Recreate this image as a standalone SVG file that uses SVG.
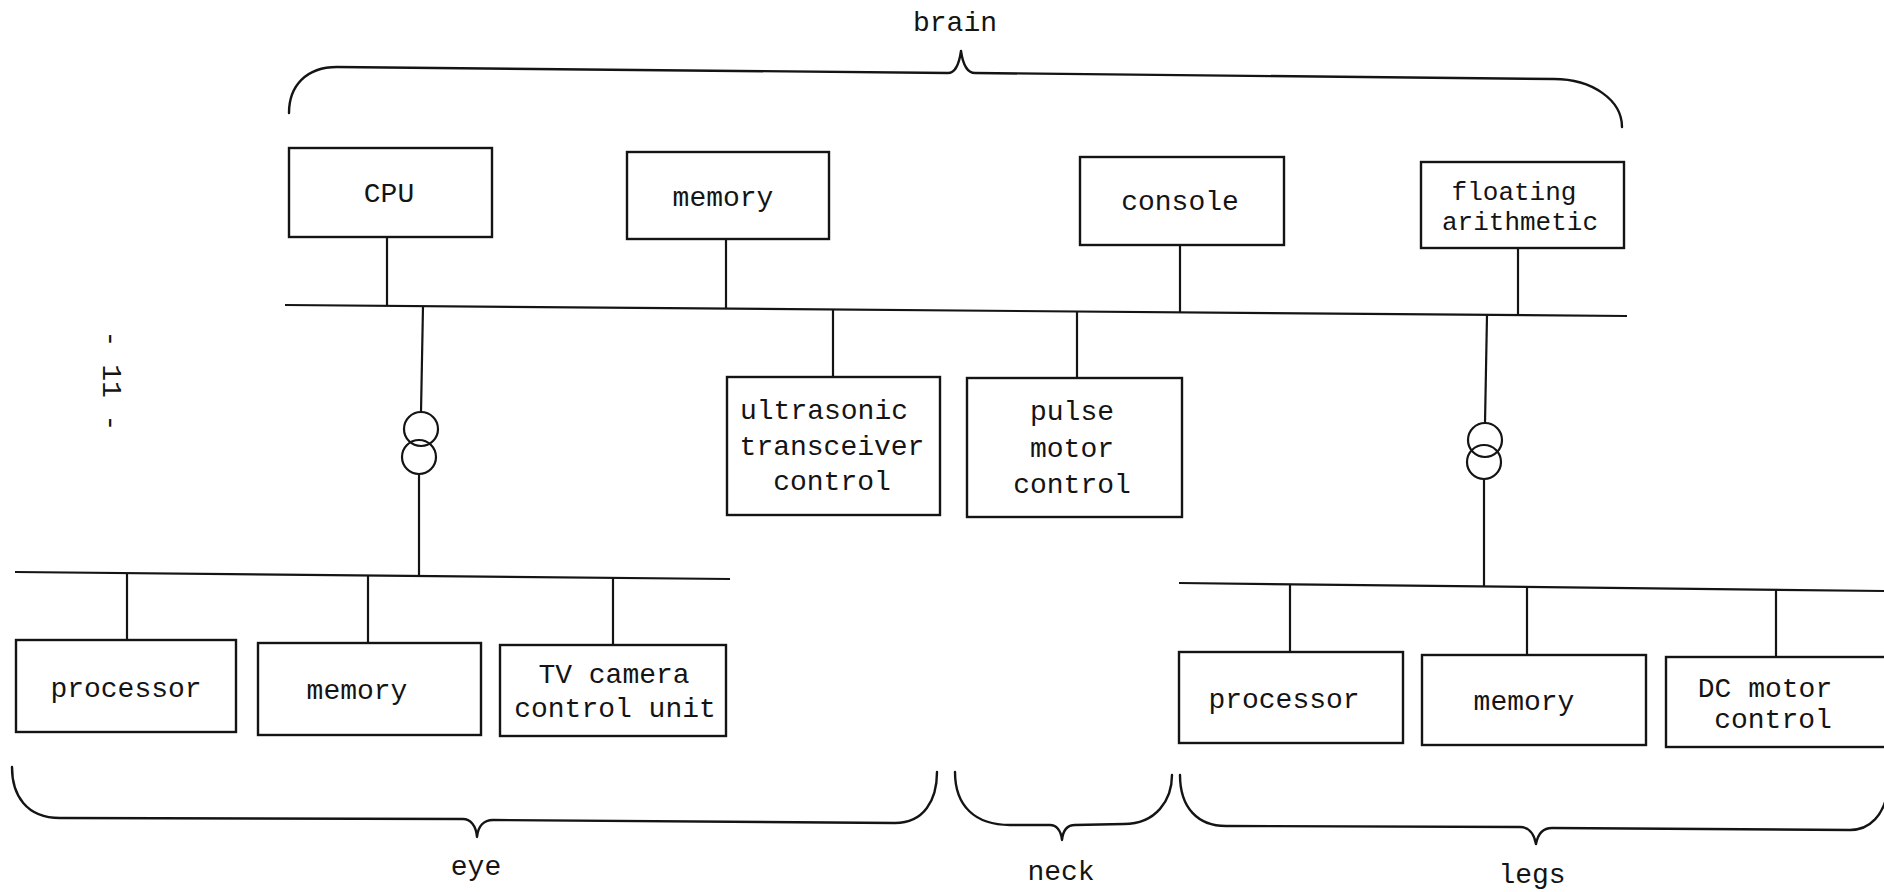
<svg xmlns="http://www.w3.org/2000/svg" width="1884" height="892" viewBox="0 0 1884 892">
<style>
.b{fill:none;stroke:#141414;stroke-width:2.4}
.l{fill:none;stroke:#141414;stroke-width:2.2}
.br{fill:none;stroke:#141414;stroke-width:2.4;stroke-linecap:round;stroke-linejoin:round}
text{font-family:"Liberation Mono","Courier New",monospace;font-size:28px;fill:#141414;text-anchor:middle}
.s{font-size:26px}
</style>
<rect width="1884" height="892" fill="#ffffff"/>
<g id="connectors">
<line class="l" x1="285" y1="305" x2="1627" y2="316"/>
<line class="l" x1="15" y1="572" x2="730" y2="579"/>
<line class="l" x1="1179" y1="583" x2="1884" y2="591"/>
<line class="l" x1="387" y1="237" x2="387" y2="306"/>
<line class="l" x1="726" y1="239" x2="726" y2="309"/>
<line class="l" x1="1180" y1="245" x2="1180" y2="313"/>
<line class="l" x1="1518" y1="248" x2="1518" y2="315"/>
<line class="l" x1="833" y1="310" x2="833" y2="377"/>
<line class="l" x1="1077" y1="312" x2="1077" y2="378"/>
<line class="l" x1="423" y1="306" x2="421" y2="412"/>
<line class="l" x1="419" y1="474" x2="419" y2="576"/>
<line class="l" x1="1487" y1="315" x2="1485" y2="423"/>
<line class="l" x1="1484" y1="479" x2="1484" y2="587"/>
<line class="l" x1="127" y1="573" x2="127" y2="641"/>
<line class="l" x1="368" y1="575" x2="368" y2="644"/>
<line class="l" x1="613" y1="577" x2="613" y2="646"/>
<line class="l" x1="1290" y1="585" x2="1290" y2="653"/>
<line class="l" x1="1527" y1="587" x2="1527" y2="656"/>
<line class="l" x1="1776" y1="589" x2="1776" y2="658"/>
</g>
<g id="eye-coupler">
<circle class="l" cx="421" cy="429" r="17"/>
<circle class="l" cx="419" cy="457" r="17"/>
</g>
<g id="legs-coupler">
<circle class="l" cx="1485" cy="440" r="17"/>
<circle class="l" cx="1484" cy="462" r="17"/>
</g>
<g id="cpu"><rect class="b" x="289" y="148" width="203" height="89"/><text x="389" y="202">CPU</text></g>
<g id="brain-memory"><rect class="b" x="627" y="152" width="202" height="87"/><text x="723" y="206">memory</text></g>
<g id="console"><rect class="b" x="1080" y="157" width="204" height="88"/><text x="1180" y="210">console</text></g>
<g id="floating-arithmetic"><rect class="b" x="1421" y="162" width="203" height="86"/><text class="s" x="1514" y="200">floating</text><text class="s" x="1520" y="230">arithmetic</text></g>
<g id="ultrasonic"><rect class="b" x="727" y="377" width="213" height="138"/><text x="824" y="419">ultrasonic</text><text x="832" y="455">transceiver</text><text x="832" y="490">control</text></g>
<g id="pulse-motor"><rect class="b" x="967" y="378" width="215" height="139"/><text x="1072" y="420">pulse</text><text x="1072" y="457">motor</text><text x="1072" y="493">control</text></g>
<g id="eye-processor"><rect class="b" x="16" y="640" width="220" height="92"/><text x="126" y="697">processor</text></g>
<g id="eye-memory"><rect class="b" x="258" y="643" width="223" height="92"/><text x="357" y="699">memory</text></g>
<g id="tv-camera"><rect class="b" x="500" y="645" width="226" height="91"/><text x="614" y="683">TV camera</text><text x="615" y="717">control unit</text></g>
<g id="legs-processor"><rect class="b" x="1179" y="652" width="224" height="91"/><text x="1284" y="708">processor</text></g>
<g id="legs-memory"><rect class="b" x="1422" y="655" width="224" height="90"/><text x="1524" y="710">memory</text></g>
<g id="dc-motor"><rect class="b" x="1666" y="657" width="240" height="90"/><text x="1765" y="697">DC motor</text><text x="1773" y="728">control</text></g>
<g id="brain-brace">
<path class="br" d="M289,113 C289,86 306,67 337,67 L948,73 C955,73 959,65 961,51 C963,65 967,73 975,73 L1554,79 C1592,79 1622,100 1622,127"/>
<text x="955" y="31">brain</text>
</g>
<g id="eye-brace">
<path class="br" d="M12,767 C12,795 26,818 60,818 L463,819 C470,819 476,825 477,837 C478,826 484,820 493,820 L895,823 C924,823 937,800 937,772"/>
<text x="476" y="875">eye</text>
</g>
<g id="neck-brace">
<path class="br" d="M955,772 C955,806 975,825 1010,825 L1050,825 C1056,825 1061,830 1062,840 C1063,830 1068,825 1075,825 L1124,824 C1156,824 1172,800 1172,775"/>
<text x="1061" y="880">neck</text>
</g>
<g id="legs-brace">
<path class="br" d="M1180,775 C1180,808 1198,826 1226,826 L1520,827 C1528,827 1534,833 1536,844 C1538,833 1544,828 1552,828 L1850,830 C1870,830 1884,815 1888,790"/>
<text x="1532" y="883">legs</text>
</g>
<text transform="translate(103,381) rotate(90)">- 11 -</text>
</svg>
